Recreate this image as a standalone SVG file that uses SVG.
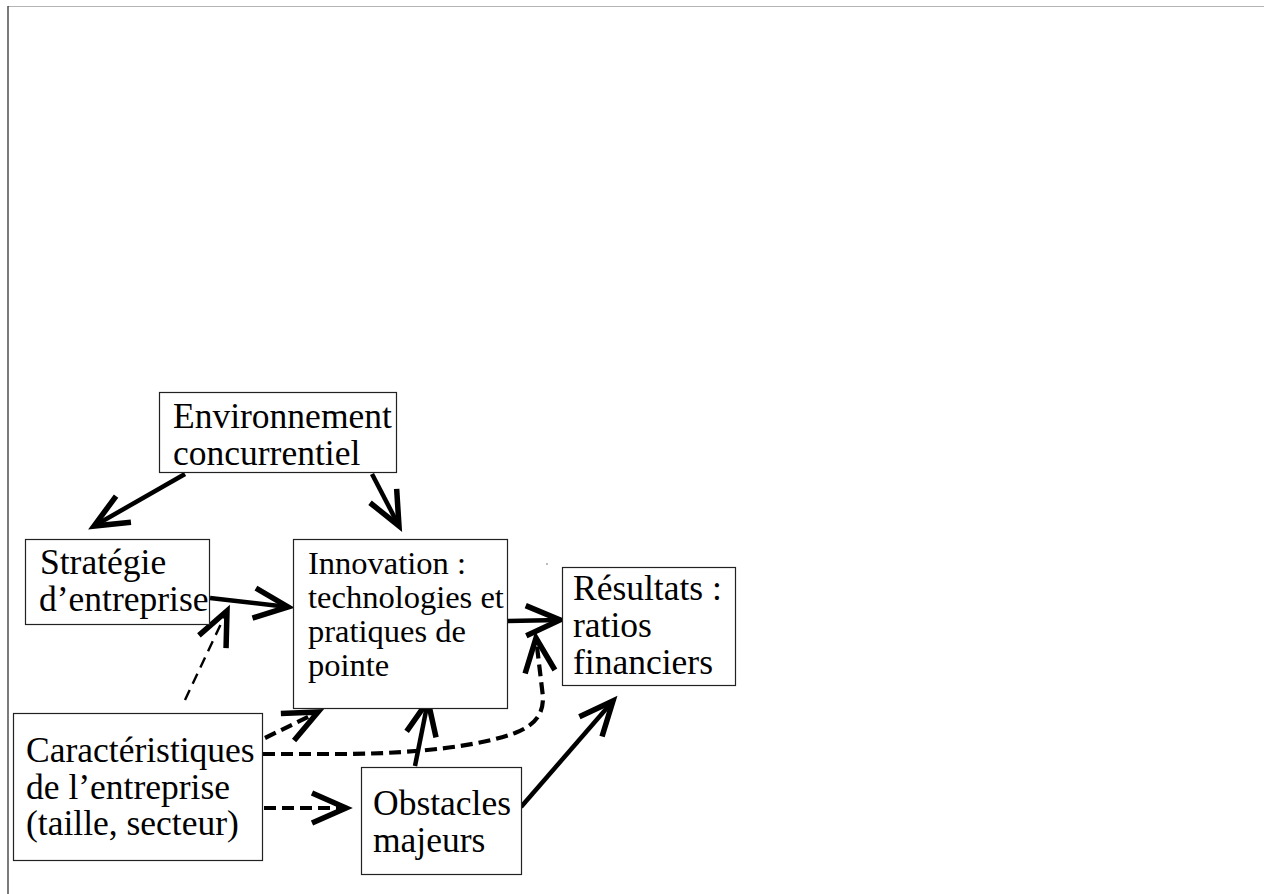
<svg xmlns="http://www.w3.org/2000/svg" width="1264" height="894" viewBox="0 0 1264 894">
  <style>
    .box { fill: #fff; stroke: #222; stroke-width: 1.2; }
    .lbl { font-family: "Liberation Serif", "Times New Roman", serif; font-size: 35.5px; fill: #000; }
    .small { font-size: 32.5px; }
    .solid { fill: none; stroke: #000; stroke-width: 4.5; }
    .dash { fill: none; stroke: #000; stroke-width: 4.2; stroke-dasharray: 12 6; }
    .dashthin { fill: none; stroke: #000; stroke-width: 2.4; stroke-dasharray: 11 7; }
  </style>
  <defs>
    <marker id="ah" markerUnits="userSpaceOnUse" markerWidth="60" markerHeight="60" viewBox="-40 -30 60 60" refX="0" refY="0" orient="auto" overflow="visible">
      <path d="M-34,-15 L0,0 L-34,15" fill="none" stroke="#000" stroke-width="5.5" stroke-dasharray="none"/>
    </marker>
  </defs>
  <rect width="1264" height="894" fill="#fff"/>
  <g id="frame">
    <line x1="8" y1="6.5" x2="1264" y2="6.5" stroke="#b4b4b4" stroke-width="1.2"/>
    <line x1="8" y1="6" x2="8" y2="894" stroke="#222" stroke-width="1.2"/>
  </g>

  <g id="connectors">
    <line class="solid" x1="185" y1="474" x2="94" y2="526" marker-end="url(#ah)"/>
    <line class="solid" x1="372" y1="474" x2="399" y2="526" marker-end="url(#ah)"/>
    <line class="solid" x1="210" y1="598" x2="288" y2="607" marker-end="url(#ah)"/>
    <line class="solid" x1="507" y1="621" x2="560" y2="620" marker-end="url(#ah)"/>
    <line class="solid" x1="415" y1="766" x2="428" y2="701" marker-end="url(#ah)"/>
    <line class="solid" x1="521" y1="807" x2="613" y2="701" marker-end="url(#ah)"/>
    <line class="dashthin" x1="185" y1="700" x2="227" y2="611" marker-end="url(#ah)"/>
    <line class="dash" x1="265" y1="738" x2="318" y2="712" marker-end="url(#ah)"/>
    <path class="dash" d="M263,754 L350,754 C420,753 480,746 515,733 C538,724 543,712 543,697 L536,638" marker-end="url(#ah)"/>
    <line class="dash" x1="264" y1="808" x2="346" y2="808" stroke-dasharray="14 6" marker-end="url(#ah)"/>
  </g>

  <g id="node-environnement">
    <rect class="box" x="159.5" y="392.5" width="237" height="80"/>
    <text class="lbl" x="173" y="428">Environnement</text>
    <text class="lbl" x="173" y="465">concurrentiel</text>
  </g>
  <g id="node-strategie">
    <rect class="box" x="25.5" y="539.5" width="184" height="85"/>
    <text class="lbl" x="40" y="574">Stratégie</text>
    <text class="lbl" x="39" y="610.5">d’entreprise</text>
  </g>
  <g id="node-innovation">
    <rect class="box" x="293.5" y="539.5" width="214" height="169"/>
    <text class="lbl small" x="308" y="574">Innovation :</text>
    <text class="lbl small" x="308" y="608">technologies et</text>
    <text class="lbl small" x="308" y="642">pratiques de</text>
    <text class="lbl small" x="308" y="676">pointe</text>
  </g>
  <g id="node-resultats">
    <rect class="box" x="562.5" y="567.5" width="173" height="118"/>
    <text class="lbl" x="573" y="600">Résultats :</text>
    <text class="lbl" x="573" y="637">ratios</text>
    <text class="lbl" x="573" y="673.5">financiers</text>
  </g>
  <g id="node-caracteristiques">
    <rect class="box" x="13.5" y="713.5" width="249" height="147"/>
    <text class="lbl" x="26" y="762">Caractéristiques</text>
    <text class="lbl" x="26" y="798.5">de l’entreprise</text>
    <text class="lbl" x="26" y="835">(taille, secteur)</text>
  </g>
  <g id="node-obstacles">
    <rect class="box" x="361.5" y="767.5" width="160" height="107"/>
    <text class="lbl" x="373" y="815">Obstacles</text>
    <text class="lbl" x="373" y="852">majeurs</text>
  </g>
  <circle cx="547" cy="564" r="0.8" fill="#666"/>
</svg>
